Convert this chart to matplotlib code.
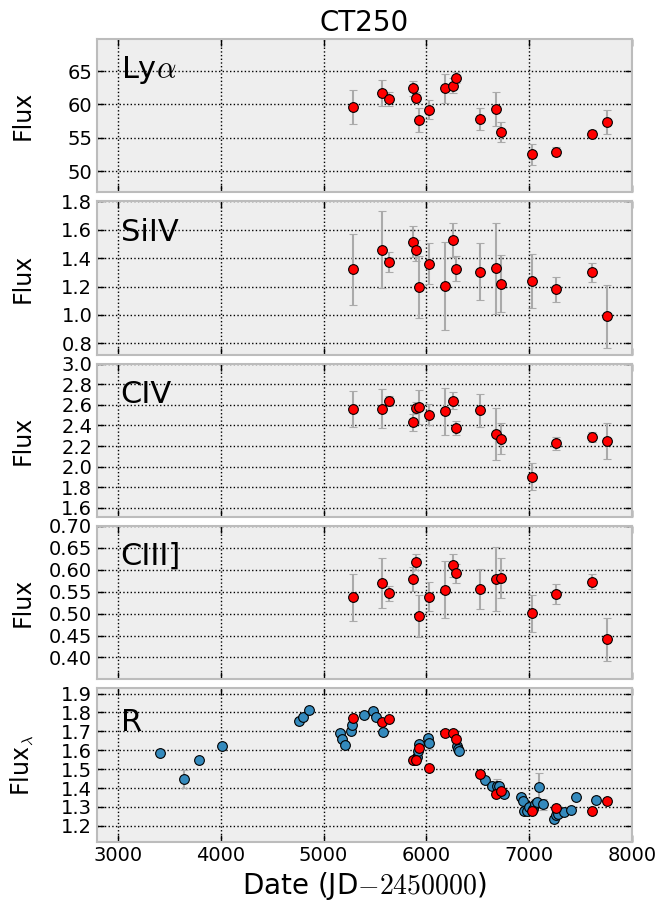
import numpy as np
import matplotlib
matplotlib.use('Agg')
import matplotlib.pyplot as plt

plt.rcParams['mathtext.fontset'] = 'cm'
plt.rcParams['font.family'] = 'DejaVu Sans'

# epochs of the spectra (JD-2450000)
spec_dates = [5289, 5572, 5633, 5871, 5899, 5928, 6022, 6186, 6256, 6288,
              6518, 6673, 6726, 7025, 7259, 7611, 7762]

lya = [59.6, 61.7, 60.8, 62.4, 61.0, 57.7, 59.2, 62.4, 62.8, 64.0,
       57.8, 59.3, 55.8, 52.5, 52.9, 55.6, 57.4]
lya_err = [2.5, 2.0, 1.1, 1.1, 0.8, 1.8, 1.4, 2.2, 1.1, 0.8,
           1.7, 2.5, 1.5, 1.6, 0.7, 0.5, 1.8]

siiv = [1.322, 1.459, 1.373, 1.517, 1.454, 1.197, 1.361, 1.203, 1.528, 1.326,
        1.305, 1.329, 1.220, 1.241, 1.180, 1.299, 0.990]
siiv_err = [0.25, 0.27, 0.07, 0.11, 0.075, 0.215, 0.145, 0.31, 0.117, 0.09,
            0.20, 0.32, 0.20, 0.19, 0.09, 0.065, 0.22]

civ = [2.562, 2.562, 2.638, 2.430, 2.571, 2.581, 2.504, 2.536, 2.642, 2.376,
       2.549, 2.318, 2.270, 1.901, 2.225, 2.289, 2.251]
civ_err = [0.173, 0.19, 0.045, 0.083, 0.055, 0.167, 0.10, 0.226, 0.083, 0.067,
           0.16, 0.25, 0.15, 0.13, 0.067, 0.046, 0.175]

ciii = [0.537, 0.570, 0.546, 0.579, 0.617, 0.495, 0.539, 0.555, 0.610, 0.592,
        0.556, 0.579, 0.581, 0.501, 0.544, 0.573, 0.441]
ciii_err = [0.054, 0.057, 0.017, 0.027, 0.018, 0.048, 0.033, 0.065, 0.026, 0.022,
            0.046, 0.073, 0.045, 0.042, 0.023, 0.017, 0.048]

# R-band photometry
r_dates = [3405, 3639, 3790, 4007, 4760, 4801, 4860, 5159, 5181, 5211,
           5266, 5276, 5395, 5483, 5506, 5574, 5880, 5912, 5920, 5931,
           6020, 6025, 6300, 6311, 6313, 6571, 6636, 6690, 6710, 6759,
           6921, 6944, 6950, 6983, 7000, 7040, 7057, 7075, 7099, 7132,
           7240, 7262, 7280, 7340, 7405, 7457, 7648]
r_flux = [1.586, 1.447, 1.551, 1.620, 1.757, 1.776, 1.811, 1.691, 1.661, 1.626,
          1.701, 1.732, 1.785, 1.809, 1.776, 1.697, 1.548, 1.565, 1.595, 1.635,
          1.663, 1.637, 1.625, 1.608, 1.596, 1.440, 1.413, 1.409, 1.411, 1.366,
          1.354, 1.333, 1.278, 1.279, 1.300, 1.290, 1.317, 1.325, 1.404, 1.314,
          1.234, 1.256, 1.265, 1.272, 1.284, 1.352, 1.338]
r_err = [0.012, 0.047, 0.010, 0.010, 0.012, 0.012, 0.012, 0.012, 0.012, 0.012,
         0.012, 0.012, 0.012, 0.012, 0.012, 0.012, 0.012, 0.012, 0.012, 0.012,
         0.012, 0.030, 0.012, 0.012, 0.012, 0.012, 0.012, 0.040, 0.012, 0.012,
         0.012, 0.012, 0.012, 0.012, 0.012, 0.012, 0.025, 0.012, 0.075, 0.030,
         0.020, 0.012, 0.012, 0.012, 0.012, 0.012, 0.012]

# R-band flux measured on the spectra
r_spec = [1.771, 1.748, 1.768, 1.546, 1.546, 1.612, 1.506, 1.691, 1.691, 1.660,
          1.475, 1.371, 1.382, 1.279, 1.293, 1.281, 1.329]

panels = [
    (r'Ly$\alpha$', lya, lya_err, (46.8, 69.8), [50, 55, 60, 65], '%d'),
    ('SiIV', siiv, siiv_err, (0.72, 1.8), [0.8, 1.0, 1.2, 1.4, 1.6, 1.8], '%.1f'),
    ('CIV', civ, civ_err, (1.51, 3.0), [1.6, 1.8, 2.0, 2.2, 2.4, 2.6, 2.8, 3.0], '%.1f'),
    ('CIII]', ciii, ciii_err, (0.35, 0.70), [0.40, 0.45, 0.50, 0.55, 0.60, 0.65, 0.70], '%.2f'),
]

fig = plt.figure(figsize=(6.61, 9.07), dpi=100)
gs = fig.add_gridspec(5, 1, left=0.146, right=0.956, top=0.957, bottom=0.072, hspace=0.058)
axes = [fig.add_subplot(gs[i]) for i in range(5)]

ebar_kw = dict(fmt='o', ms=7, mfc='red', mec='black', mew=0.8, ecolor='#aaaaaa',
               elinewidth=1.5, capsize=3, capthick=1.5, zorder=3)

def style(ax):
    ax.set_facecolor('#eeeeee')
    for s in ax.spines.values():
        s.set_color('#bcbcbc')
        s.set_linewidth(1.5)
    ax.grid(True, color='black', linestyle=':', linewidth=1)
    ax.set_axisbelow(True)
    ax.tick_params(direction='in', length=5, width=1, top=True, right=True,
                   labelsize=14, color='black', pad=3)
    ax.set_xlim(2790, 8000)
    ax.set_xticks([3000, 4000, 5000, 6000, 7000, 8000])

for ax, (name, y, yerr, ylim, ticks, fmt) in zip(axes[:4], panels):
    style(ax)
    ax.errorbar(spec_dates, y, yerr=yerr, **ebar_kw)
    ax.set_ylim(*ylim)
    ax.set_yticks(ticks)
    ax.set_yticklabels([fmt % t for t in ticks])
    ax.set_xticklabels([])
    ax.set_ylabel('Flux', fontsize=17, labelpad=10)
    ax.text(0.045, 0.80, name, transform=ax.transAxes, fontsize=22,
            ha='left', va='center')

ax = axes[4]
style(ax)
ax.errorbar(r_dates, r_flux, yerr=r_err, fmt='o', ms=7, mfc='#348abd', mec='black',
            mew=0.8, ecolor='#aaaaaa', elinewidth=1.5, capsize=3, capthick=1.5, zorder=3)
ax.errorbar(spec_dates, r_spec, yerr=0.008, **ebar_kw)
ax.set_ylim(1.116, 1.928)
ax.set_yticks([1.2, 1.3, 1.4, 1.5, 1.6, 1.7, 1.8, 1.9])
ax.set_ylabel(r'Flux$_\lambda$', fontsize=17, labelpad=10)
ax.text(0.045, 0.78, 'R', transform=ax.transAxes, fontsize=22, ha='left', va='center')
ax.set_xlabel(r'Date (JD$-2450000$)', fontsize=20)

axes[0].set_title('CT250', fontsize=20)

fig.align_ylabels(axes)
plt.savefig('out.png', dpi=100)
